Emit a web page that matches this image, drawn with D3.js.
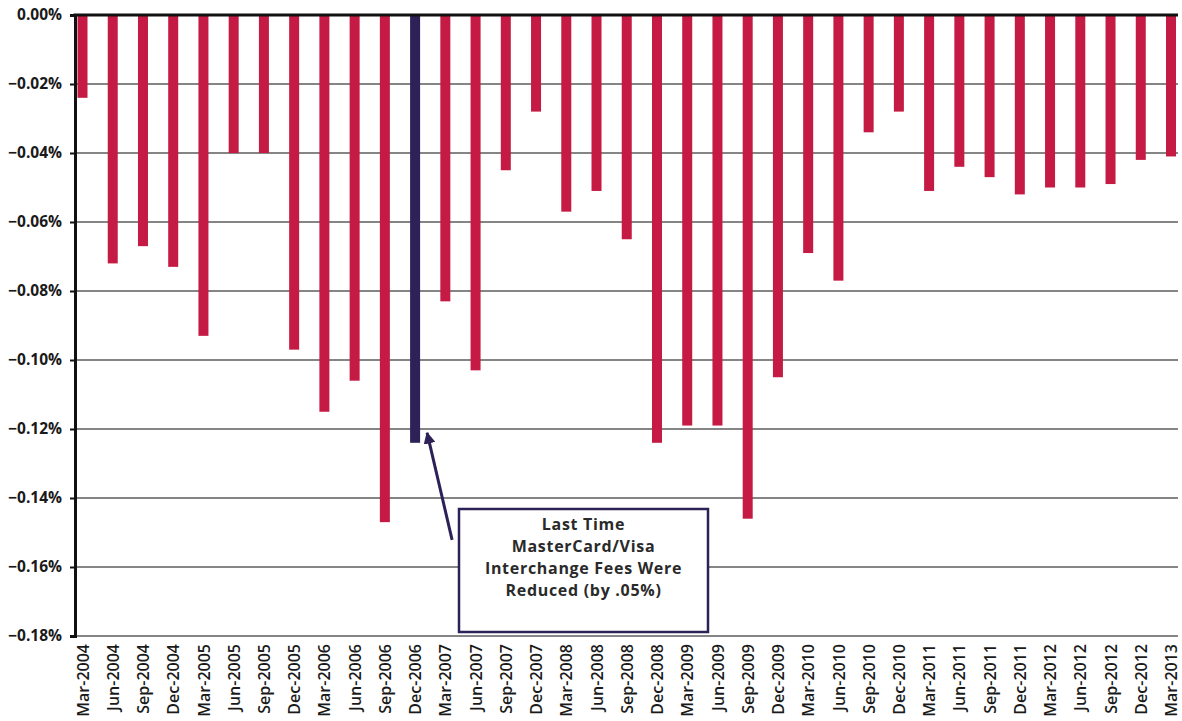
<!DOCTYPE html>
<html>
<head>
<meta charset="utf-8">
<script src="https://cdn.jsdelivr.net/npm/d3@7"></script>
<style>
  html, body { margin: 0; padding: 0; background: #fff; }
  svg { display: block; }
  text { font-family: "Open Sans", Lato, sans-serif; }
</style>
</head>
<body>
<svg id="chart" width="1182" height="721"></svg>
<script>
// Quarter-end labels
const quarters = [
  "Mar-2004","Jun-2004","Sep-2004","Dec-2004",
  "Mar-2005","Jun-2005","Sep-2005","Dec-2005",
  "Mar-2006","Jun-2006","Sep-2006","Dec-2006",
  "Mar-2007","Jun-2007","Sep-2007","Dec-2007",
  "Mar-2008","Jun-2008","Sep-2008","Dec-2008",
  "Mar-2009","Jun-2009","Sep-2009","Dec-2009",
  "Mar-2010","Jun-2010","Sep-2010","Dec-2010",
  "Mar-2011","Jun-2011","Sep-2011","Dec-2011",
  "Mar-2012","Jun-2012","Sep-2012","Dec-2012",
  "Mar-2013"
];

// Quarterly change, in percent
const changes = [
  -0.024, -0.072, -0.067, -0.073,
  -0.093, -0.040, -0.040, -0.097,
  -0.115, -0.106, -0.147, -0.124,
  -0.083, -0.103, -0.045, -0.028,
  -0.057, -0.051, -0.065, -0.124,
  -0.119, -0.119, -0.146, -0.105,
  -0.069, -0.077, -0.034, -0.028,
  -0.051, -0.044, -0.047, -0.052,
  -0.050, -0.050, -0.049, -0.042,
  -0.041
];

// Quarter singled out by the callout
const highlightQuarter = "Dec-2006";

const yTicks = [0, -0.02, -0.04, -0.06, -0.08, -0.10, -0.12, -0.14, -0.16, -0.18];

const calloutLines = [
  "Last Time",
  "MasterCard/Visa",
  "Interchange Fees Were",
  "Reduced (by .05%)"
];

const RED = "#c51a43";
const NAVY = "#2d2158";

const svg = d3.select("#chart");

const plot = { left: 75, right: 1178, top: 15, bottom: 636 };

const x = d3.scalePoint()
  .domain(quarters)
  .range([82.5, 1171]);

const y = d3.scaleLinear()
  .domain([-0.18, 0])
  .range([plot.bottom, plot.top]);

const barW = 10;

// Horizontal gridlines
svg.append("g")
  .selectAll("line")
  .data(yTicks.filter(d => d !== 0))
  .join("line")
  .attr("x1", plot.left)
  .attr("x2", plot.right)
  .attr("y1", d => y(d))
  .attr("y2", d => y(d))
  .attr("stroke", "#5c5c5c")
  .attr("stroke-width", 1.3);

// Bars hang from the zero line
svg.append("g")
  .selectAll("rect")
  .data(quarters.map((q, i) => ({ q, v: changes[i] })))
  .join("rect")
  .attr("x", d => x(d.q) - barW / 2)
  .attr("y", y(0))
  .attr("width", barW)
  .attr("height", d => y(d.v) - y(0))
  .attr("fill", d => d.q === highlightQuarter ? NAVY : RED);

// Zero line along the top
svg.append("line")
  .attr("x1", plot.left - 1.5)
  .attr("x2", plot.right)
  .attr("y1", y(0))
  .attr("y2", y(0))
  .attr("stroke", "#111")
  .attr("stroke-width", 3);

// Y axis
const yAxis = d3.axisLeft(y)
  .tickValues(yTicks)
  .tickSize(5)
  .tickPadding(8)
  .tickFormat(d => d3.format(".2f")(d) + "%");

const gy = svg.append("g")
  .attr("transform", `translate(${plot.left},0)`)
  .call(yAxis);

gy.select(".domain")
  .attr("stroke", "#111")
  .attr("stroke-width", 3);
gy.selectAll(".tick line")
  .attr("stroke", "#111")
  .attr("stroke-width", 2);
gy.selectAll(".tick text")
  .attr("fill", "#1a1a1a")
  .style("font-size", "15.5px")
  .style("font-weight", "bold");
gy.selectAll(".tick")
  .filter(d => d === 0)
  .select("text")
  .text("0.00%");

// X axis labels, rotated
const xAxis = d3.axisBottom(x).tickSize(0).tickPadding(0);
const gx = svg.append("g")
  .attr("transform", `translate(0,${plot.bottom})`)
  .call(xAxis);
gx.select(".domain").remove();
gx.selectAll(".tick text")
  .attr("transform", "rotate(-90)")
  .attr("x", -8)
  .attr("y", 0)
  .attr("dy", "0.35em")
  .attr("text-anchor", "end")
  .attr("fill", "#1a1a1a")
  .style("font-size", "16px")
  .style("font-weight", "600");

// Callout box with arrow to the highlighted bar
const hv = changes[quarters.indexOf(highlightQuarter)];
const tip = { x: x(highlightQuarter) + 12, y: y(hv) - 10 };
const tail = { x: tip.x + 25, y: tip.y + 107 };

svg.append("defs").append("marker")
  .attr("id", "arrowhead")
  .attr("viewBox", "0 0 10 10")
  .attr("refX", 9)
  .attr("refY", 5)
  .attr("markerWidth", 4)
  .attr("markerHeight", 4)
  .attr("orient", "auto")
  .append("path")
  .attr("d", "M0,0 L10,5 L0,10 Z")
  .attr("fill", NAVY);

svg.append("line")
  .attr("x1", tail.x)
  .attr("y1", tail.y)
  .attr("x2", tip.x)
  .attr("y2", tip.y)
  .attr("stroke", NAVY)
  .attr("stroke-width", 3)
  .attr("marker-end", "url(#arrowhead)");

const box = { x: 459, y: 509, w: 249, h: 123 };
svg.append("rect")
  .attr("x", box.x)
  .attr("y", box.y)
  .attr("width", box.w)
  .attr("height", box.h)
  .attr("fill", "#fff")
  .attr("stroke", NAVY)
  .attr("stroke-width", 2.5);

svg.append("g")
  .selectAll("text")
  .data(calloutLines)
  .join("text")
  .attr("x", box.x + box.w / 2)
  .attr("y", (d, i) => box.y + 15 + i * 22)
  .attr("dy", "0.35em")
  .attr("text-anchor", "middle")
  .attr("fill", "#2a2a2a")
  .style("font-size", "16px")
  .style("letter-spacing", "0.7px")
  .style("font-weight", "bold")
  .text(d => d);
</script>
</body>
</html>
